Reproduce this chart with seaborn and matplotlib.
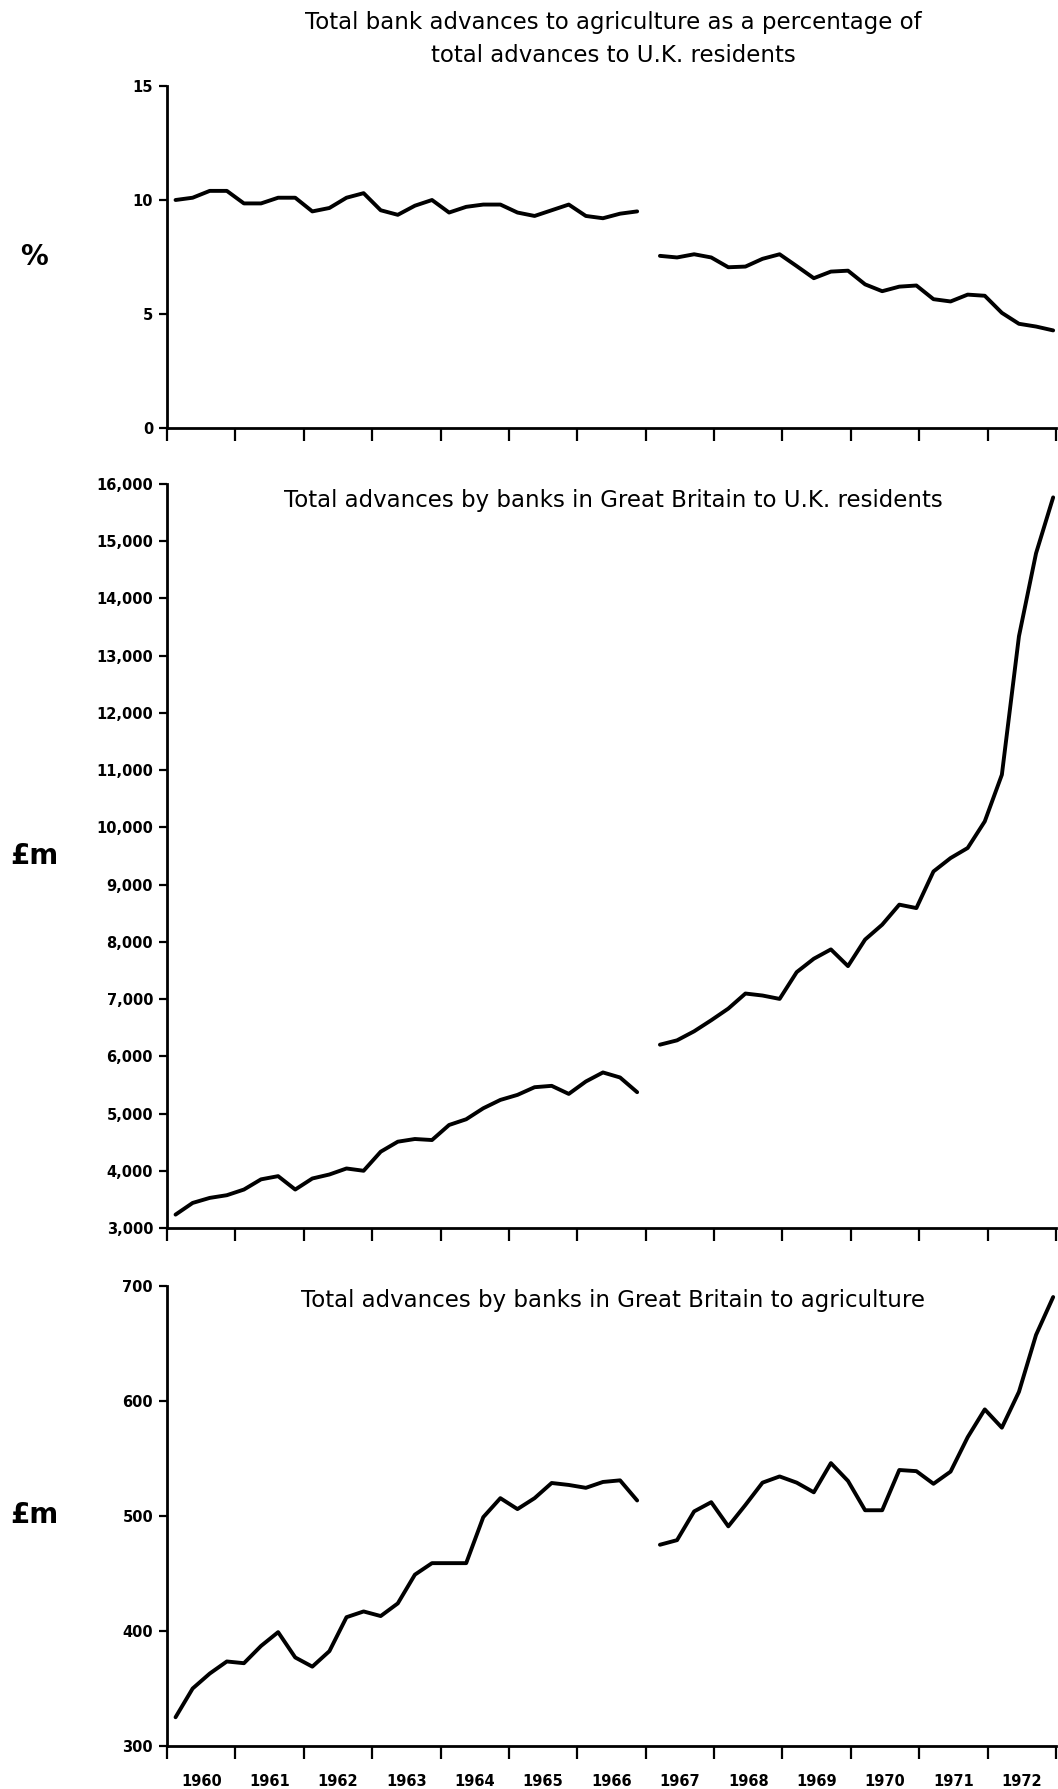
import numpy as np
import pandas as pd
import matplotlib
matplotlib.use("Agg")
import matplotlib.pyplot as plt
import seaborn as sns
from matplotlib.ticker import FuncFormatter

# quarterly returns: mid Feb/May/Aug/Nov up to 1966, mid Mar/Jun/Sep/Dec from 1967
years_a = [1960, 1961, 1962, 1963, 1964, 1965, 1966]
months_a = [2, 5, 8, 11]
years_b = [1967, 1968, 1969, 1970, 1971, 1972]
months_b = [3, 6, 9, 12]

# agriculture as % of total advances
pct_a = [10.0, 10.1, 10.4, 10.4, 9.85, 9.85, 10.1, 10.1, 9.5, 9.65, 10.1, 10.3,
         9.55, 9.35, 9.75, 10.0, 9.45, 9.7, 9.8, 9.8, 9.45, 9.3, 9.55, 9.8,
         9.3, 9.2, 9.4, 9.5]
pct_b = [7.55, 7.48, 7.62, 7.48, 7.05, 7.08, 7.42, 7.62, 7.1, 6.57, 6.86, 6.9,
         6.3, 6.0, 6.2, 6.25, 5.65, 5.55, 5.85, 5.8, 5.05, 4.57, 4.45, 4.28]

# total advances to UK residents, £m
uk_a = [3234, 3438, 3526, 3573, 3672, 3850, 3906, 3672, 3865, 3935, 4040, 4000,
        4333, 4508, 4555, 4537, 4800, 4900, 5092, 5238, 5326, 5460, 5484, 5343,
        5560, 5718, 5630, 5373]
uk_b = [6203, 6279, 6437, 6630, 6834, 7097, 7062, 7003, 7471, 7705, 7868, 7576,
        8040, 8300, 8650, 8590, 9230, 9464, 9640, 10105, 10920, 13340, 14790, 15766]

# advances to agriculture, £m
agr_a = [325, 350, 363, 373.5, 372, 387, 399, 377, 369, 382.5, 412, 417,
         413, 424, 449, 459, 459, 459, 499, 515.5, 506, 515.5, 528.7, 527,
         524.5, 529.6, 531, 513.5]
agr_b = [475, 479, 504, 512, 491, 509.6, 529, 534.4, 529, 520.6, 546, 530.5,
         505, 505, 540, 539, 528, 538.6, 568.5, 592.7, 576.8, 608, 657.5, 690.4]

year_labels = [str(y) for y in range(1960, 1973)]

titles = ["Total bank advances to agriculture as a percentage of\ntotal advances to U.K. residents",
          "Total advances by banks in Great Britain to U.K. residents",
          "Total advances by banks in Great Britain to agriculture"]
units = ["%", "£m", "£m"]


def dates(years, months):
    return [y + (m - 0.5) / 12 for y in years for m in months]


def frame(a, b):
    d1 = pd.DataFrame({"date": dates(years_a, months_a), "value": a, "seg": "a"})
    d2 = pd.DataFrame({"date": dates(years_b, months_b), "value": b, "seg": "b"})
    return pd.concat([d1, d2], ignore_index=True)


frames = [frame(pct_a, pct_b), frame(uk_a, uk_b), frame(agr_a, agr_b)]

sns.set_style("ticks")
plt.rcParams["font.family"] = ["DejaVu Sans"]
for k in ["text.color", "axes.labelcolor", "xtick.color", "ytick.color", "axes.edgecolor"]:
    plt.rcParams[k] = "black"

fig = plt.figure(figsize=(10.58, 17.89), dpi=100)
W, H = 1058, 1789
# axes boxes in pixels: left, top(px of ymax), right, bottom(px of ymin)
boxes = [(167, 86, 1056, 428), (167, 484, 1056, 1228), (167, 1286, 1056, 1746)]
ylims = [(0, 15), (3000, 16000), (300, 700)]
yticks = [[0, 5, 10, 15], list(range(3000, 16001, 1000)), [300, 400, 500, 600, 700]]
unit_y = [257, 856, 1515]
title_y = [[22, 56], [500], [1300]]

axes = []
for i, df in enumerate(frames):
    l, t, r, b = boxes[i]
    ax = fig.add_axes([l / W, 1 - b / H, (r - l) / W, (b - t) / H])
    for seg, g in df.groupby("seg"):
        sns.lineplot(data=g, x="date", y="value", color="black", lw=2.8,
                     ax=ax, legend=False)
    ax.set_xlim(1960, 1973)
    ax.set_ylim(*ylims[i])
    ax.set_xticks(range(1960, 1974))
    ax.set_xticklabels([])
    ax.set_yticks(yticks[i])
    if i == 1:
        ax.yaxis.set_major_formatter(FuncFormatter(lambda v, p: f"{int(v):,}"))
    else:
        ax.yaxis.set_major_formatter(FuncFormatter(lambda v, p: f"{int(v)}"))
    ax.tick_params(axis="x", length=9, width=1.6, direction="out")
    ax.tick_params(axis="y", length=6, width=1.6, direction="out", pad=4,
                   labelsize=10.5)
    for lab in ax.get_yticklabels():
        lab.set_fontweight("bold")
    for s in ["top", "right"]:
        ax.spines[s].set_visible(False)
    for s in ["left", "bottom"]:
        ax.spines[s].set_linewidth(2.0)
    ax.set_xlabel("")
    ax.set_ylabel("")
    fig.text(34 / W, 1 - unit_y[i] / H, units[i], fontsize=20, fontweight="bold",
             ha="center", va="center")
    lines = titles[i].split("\n")
    for j, line in enumerate(lines):
        fig.text(613 / W, 1 - title_y[i][j] / H, line, fontsize=16.5,
                 ha="center", va="center")
    axes.append(ax)

# year labels centred between the ticks on the bottom panel
ax = axes[-1]
ax.set_xticks([y + 0.5 for y in range(1960, 1973)], minor=True)
ax.set_xticklabels(year_labels, minor=True, fontweight="bold", fontsize=10.5)
ax.tick_params(axis="x", which="minor", length=0, pad=20)

fig.savefig("out.png", dpi=100)
